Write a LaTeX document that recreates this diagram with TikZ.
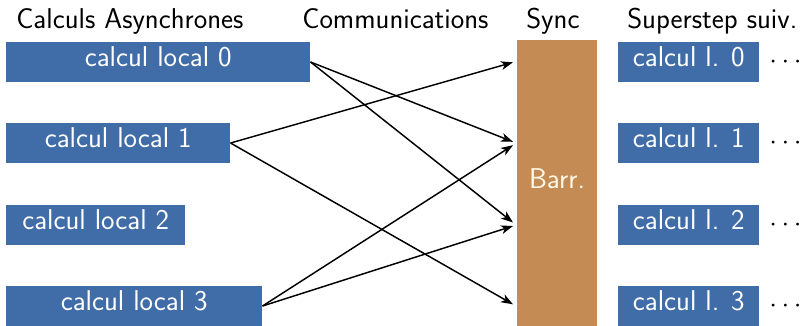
\documentclass[tikz,border=0pt]{standalone}
\usepackage{fontspec}
\usetikzlibrary{arrows.meta}
\definecolor{cblue}{RGB}{64,108,168}
\definecolor{cbrown}{RGB}{196,140,84}
\definecolor{ccream}{RGB}{255,248,232}
\begin{document}
\begin{tikzpicture}[x=0.75pt,y=-0.75pt,
  font=\sffamily\fontsize{21.5}{26}\selectfont,
  calcbox/.style={fill=cblue,text=white,inner sep=0pt,minimum height=30pt,
    text height=0.69em,text depth=0pt,anchor=west},
  title/.style={anchor=base west,inner sep=0pt},
  msg/.style={-{Stealth[length=9pt,width=6.5pt,inset=2.5pt]},line width=1.1pt}]
\useasboundingbox (0,0) rectangle (812,325);
% titles
\node[title] (h0) at (16,28) {Calculs Asynchrones};
\node[title] (h1) at (302,28) {Communications};
\node[title] (h2) at (526,28) {Sync};
\node[title] (h3) at (627,28) {Superstep suiv.};
% left boxes
\node[calcbox,minimum width=228pt] (c0) at (6,62) {calcul local 0};
\node[calcbox,minimum width=168pt] (c1) at (6,143) {calcul local 1};
\node[calcbox,minimum width=134.25pt] (c2) at (6,225) {calcul local 2};
\node[calcbox,minimum width=192pt] (c3) at (6,306) {calcul local 3};
% barrier
\node[fill=cbrown,text=ccream,inner sep=0pt,minimum width=60pt,minimum height=216pt,
  text height=0.69em,text depth=0pt] (b) at (557,184) {Barr.};
% right boxes
\node[calcbox,minimum width=105.75pt] (r0) at (618,62) {calcul l. 0};
\node[calcbox,minimum width=105.75pt] (r1) at (618,143) {calcul l. 1};
\node[calcbox,minimum width=105.75pt] (r2) at (618,225) {calcul l. 2};
\node[calcbox,minimum width=105.75pt] (r3) at (618,306) {calcul l. 3};
% dots
\node[title] (d0) at (769,68.5) {$\cdots$};
\node[title] (d1) at (769,149.5) {$\cdots$};
\node[title] (d2) at (769,231.5) {$\cdots$};
\node[title] (d3) at (769,312.5) {$\cdots$};
% arrow targets
\coordinate (t0) at (513,62.3);
\coordinate (t1a) at (513,141.8);
\coordinate (t1b) at (513,145.2);
\coordinate (t2a) at (513,222.5);
\coordinate (t2b) at (513,226);
\coordinate (t3) at (513,304.3);
% messages
\draw[msg] (c0.east) -- (t1a);
\draw[msg] (c0.east) -- (t2a);
\draw[msg] (c1.east) -- (t0);
\draw[msg] (c1.east) -- (t3);
\draw[msg] (c3.east) -- (t1b);
\draw[msg] (c3.east) -- (t2b);
\end{tikzpicture}
\end{document}
